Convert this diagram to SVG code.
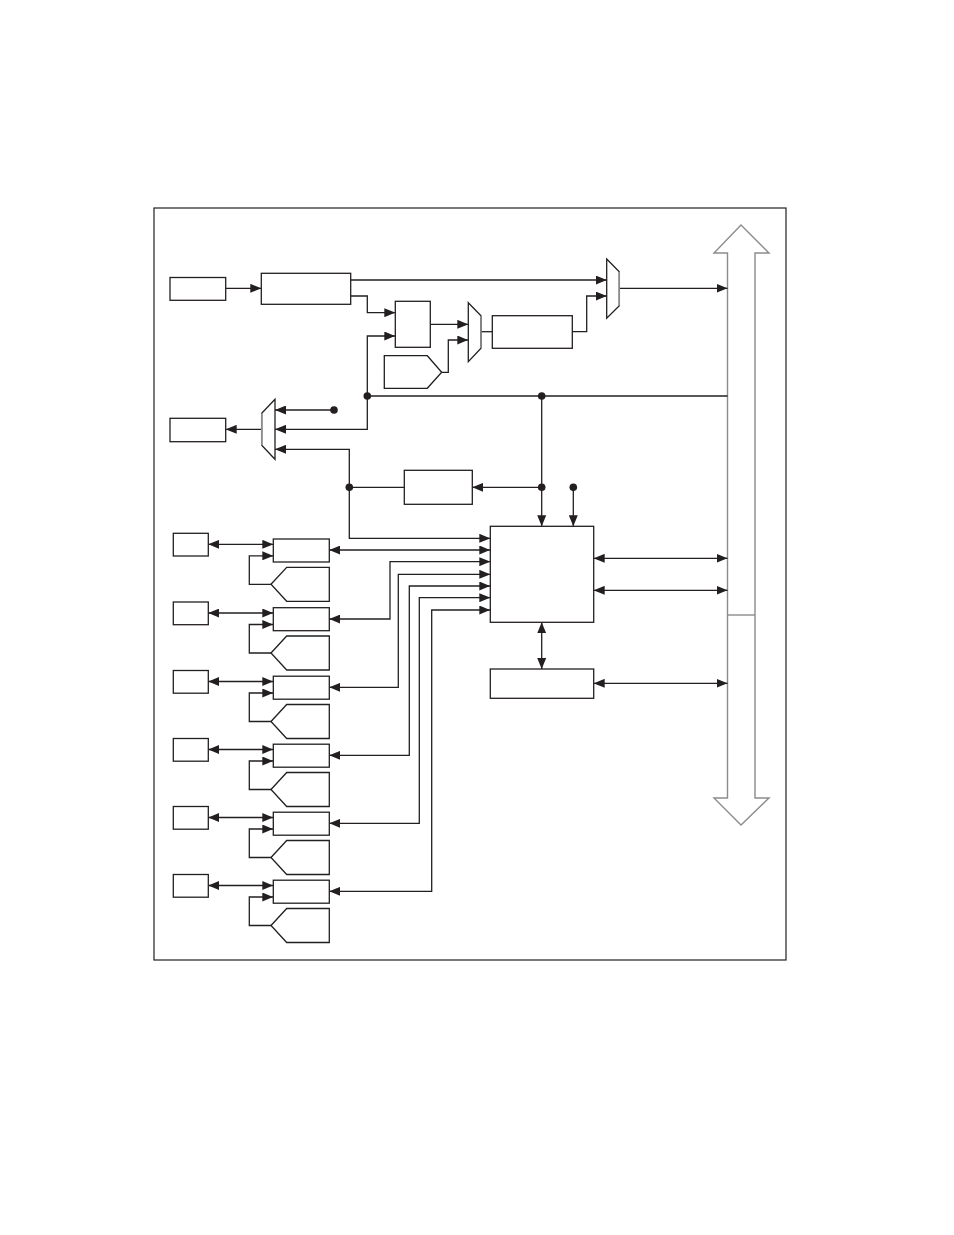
<svg xmlns="http://www.w3.org/2000/svg" width="954" height="1235" viewBox="0 0 954 1235">
<style>
.bx{fill:#fff;stroke:#231f20;stroke-width:1.3}
.gy{fill:#fff;stroke:#8c8c8c;stroke-width:1.4}
.ln{fill:none;stroke:#231f20;stroke-width:1.3}
.a{marker-end:url(#ah)}
.b{marker-start:url(#ah);marker-end:url(#ah)}
.dot{fill:#231f20}
</style>
<defs>
<marker id="ah" viewBox="0 0 11 9" refX="11" refY="4.5" markerWidth="11" markerHeight="9" markerUnits="userSpaceOnUse" orient="auto-start-reverse"><path d="M0,0L11,4.5L0,9z" fill="#231f20"/></marker>
</defs>
<rect x="0" y="0" width="954" height="1235" fill="#fff"/>
<rect x="154" y="208" width="632" height="752" fill="none" stroke="#231f20" stroke-width="1.2"/>

<g id="bus"><polygon class="gy" points="741,225 769,253 755,253 755,798 769,798 741,825 714,798 727.5,798 727.5,253 714,253"/><line x1="727.5" y1="615" x2="755" y2="615" stroke="#8c8c8c" stroke-width="1.4"/></g>

<g id="connectors">
<path class="ln a" d="M225.7,288.3H261.3"/>
<path class="ln a" d="M350.7,280H606.7"/>
<path class="ln a" d="M350.7,296H367.3V312.7H395.3"/>
<path class="ln a" d="M367.3,396V336H395.3"/>
<path class="ln a" d="M430.3,324.3H468.3"/>
<path class="ln a" d="M441.7,372.3H448.3V340H468.3"/>
<path class="ln" d="M481,331.7H492.3"/>
<path class="ln a" d="M572.3,331.7H586.7V296H606.7"/>
<path class="ln a" d="M619.3,288.3H727.5"/>
<path class="ln" d="M367.3,396H727.5"/>
<path class="ln a" d="M367.3,396V429.3H275"/>
<path class="ln a" d="M334,410H275"/>
<path class="ln a" d="M261.7,429.3H225.7"/>
<path class="ln b" d="M275,449.3H349.3V538.3H490.3"/>
<path class="ln" d="M349.3,487.3H404.3"/>
<path class="ln a" d="M541.7,487.3H472.3"/>
<path class="ln a" d="M541.7,396V526.3"/>
<path class="ln a" d="M573.3,487.3V526.3"/>
<path class="ln b" d="M593.7,558.3H727.5"/>
<path class="ln b" d="M593.7,590.3H727.5"/>
<path class="ln b" d="M541.7,622.3V669"/>
<path class="ln b" d="M593.7,683.3H727.5"/>
<path class="ln b" d="M490.3,550H329.3"/>
<path class="ln b" d="M490.3,561.7H390V619H329.3"/>
<path class="ln b" d="M490.3,574.3H398.3V687.3H329.3"/>
<path class="ln b" d="M490.3,586H409.3V755.3H329.3"/>
<path class="ln b" d="M490.3,597.7H419.3V823.3H329.3"/>
<path class="ln b" d="M490.3,610H431.7V891.3H329.3"/>
<path class="ln b" d="M208.3,544.3H273.3"/>
<path class="ln a" d="M271,584.3H249.3V555.8H273.3"/>
<path class="ln b" d="M208.3,613H273.3"/>
<path class="ln a" d="M271,653H249.3V624.5H273.3"/>
<path class="ln b" d="M208.3,681.5H273.3"/>
<path class="ln a" d="M271,721.5H249.3V693H273.3"/>
<path class="ln b" d="M208.3,749.5H273.3"/>
<path class="ln a" d="M271,789.5H249.3V761H273.3"/>
<path class="ln b" d="M208.3,817.5H273.3"/>
<path class="ln a" d="M271,857.5H249.3V829H273.3"/>
<path class="ln b" d="M208.3,885.5H273.3"/>
<path class="ln a" d="M271,925.5H249.3V897H273.3"/>
<circle class="dot" cx="367.3" cy="396" r="3.8"/>
<circle class="dot" cx="541.7" cy="396" r="3.8"/>
<circle class="dot" cx="334" cy="410" r="3.8"/>
<circle class="dot" cx="349.3" cy="487.3" r="3.8"/>
<circle class="dot" cx="541.7" cy="487.3" r="3.8"/>
<circle class="dot" cx="573.3" cy="487.3" r="3.8"/>
</g>

<g id="nA"><rect class="bx" x="170" y="277.5" width="55.7" height="22.8"/></g>
<g id="nB"><rect class="bx" x="261.3" y="273.3" width="89.4" height="31"/></g>
<g id="nC"><rect class="bx" x="395.3" y="301.3" width="35" height="46"/></g>
<g id="nMux1"><polygon class="bx" points="468.3,302.7 481,315.7 481,348.3 468.3,361.7"/><line x1="481" y1="315.7" x2="481" y2="348.3" stroke="#8c8c8c" stroke-width="1.5"/></g>
<g id="nPent"><polygon class="bx" points="384.3,355.7 427.3,355.7 441.7,372.3 427.3,388.3 384.3,388.3"/></g>
<g id="nD"><rect class="bx" x="492.3" y="315.7" width="80" height="32.6"/></g>
<g id="nMux2"><polygon class="bx" points="606.7,259 619.3,271.7 619.3,305.7 606.7,318.3"/><line x1="619.3" y1="271.7" x2="619.3" y2="305.7" stroke="#8c8c8c" stroke-width="1.5"/></g>
<g id="nMux3"><polygon class="bx" points="275,399.3 261.7,413.3 261.7,445.3 275,459.3"/><line x1="261.7" y1="413.3" x2="261.7" y2="445.3" stroke="#8c8c8c" stroke-width="1.5"/></g>
<g id="nE"><rect class="bx" x="170" y="418.3" width="55.7" height="23.4"/></g>
<g id="nF"><rect class="bx" x="404.3" y="470.3" width="68" height="34"/></g>
<g id="nG"><rect class="bx" x="490.3" y="526.3" width="103.4" height="96"/></g>
<g id="nH"><rect class="bx" x="490.3" y="669" width="103.4" height="29.3"/></g>

<g id="row1"><rect class="bx" x="173.3" y="533.3" width="35" height="22.7"/><rect class="bx" x="273.3" y="539" width="56" height="23"/><polygon class="bx" points="271,584.3 286.7,567.3 329.3,567.3 329.3,601.3 286.7,601.3"/></g>
<g id="row2"><rect class="bx" x="173.3" y="602" width="35" height="22.7"/><rect class="bx" x="273.3" y="607.7" width="56" height="23"/><polygon class="bx" points="271,653 286.7,636 329.3,636 329.3,670 286.7,670"/></g>
<g id="row3"><rect class="bx" x="173.3" y="670.5" width="35" height="22.7"/><rect class="bx" x="273.3" y="676.2" width="56" height="23"/><polygon class="bx" points="271,721.5 286.7,704.5 329.3,704.5 329.3,738.5 286.7,738.5"/></g>
<g id="row4"><rect class="bx" x="173.3" y="738.5" width="35" height="22.7"/><rect class="bx" x="273.3" y="744.2" width="56" height="23"/><polygon class="bx" points="271,789.5 286.7,772.5 329.3,772.5 329.3,806.5 286.7,806.5"/></g>
<g id="row5"><rect class="bx" x="173.3" y="806.5" width="35" height="22.7"/><rect class="bx" x="273.3" y="812.2" width="56" height="23"/><polygon class="bx" points="271,857.5 286.7,840.5 329.3,840.5 329.3,874.5 286.7,874.5"/></g>
<g id="row6"><rect class="bx" x="173.3" y="874.5" width="35" height="22.7"/><rect class="bx" x="273.3" y="880.2" width="56" height="23"/><polygon class="bx" points="271,925.5 286.7,908.5 329.3,908.5 329.3,942.5 286.7,942.5"/></g>
</svg>
